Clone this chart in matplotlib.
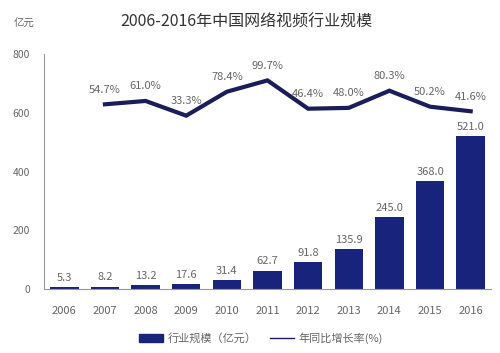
import matplotlib
matplotlib.use("Agg")
import matplotlib.pyplot as plt
from matplotlib.lines import Line2D
from matplotlib.patches import Patch

plt.rcParams['font.family'] = ['Noto Sans CJK SC', 'DejaVu Sans']

years = ['2006', '2007', '2008', '2009', '2010', '2011', '2012', '2013', '2014', '2015', '2016']
scale = [5.3, 8.2, 13.2, 17.6, 31.4, 62.7, 91.8, 135.9, 245.0, 368.0, 521.0]
growth_years = years[1:]
growth = [54.7, 61.0, 33.3, 78.4, 99.7, 46.4, 48.0, 80.3, 50.2, 41.6]

bar_color = '#18237c'
line_color = '#1b1d5a'
text_gray = '#666666'

fig = plt.figure(figsize=(5, 3.53), dpi=100)
ax = fig.add_axes([44/500, 1-289/353, (491-44)/500, (289-54)/353])
x = list(range(len(years)))
bars = ax.bar(x, scale, width=0.7, color=bar_color, zorder=2)
for xi, v in zip(x, scale):
    ax.annotate(f'{v:.1f}', (xi, v), xytext=(0, 3), textcoords='offset points',
                ha='center', va='bottom', fontsize=8, color=text_gray)
ax.set_xlim(-0.5, len(years)-0.5)
ax.set_ylim(0, 800)
ax.set_yticks([0, 200, 400, 600, 800])
ax.set_xticks(x)
ax.set_xticklabels(years)
ax.tick_params(axis='both', length=0, labelsize=7.5, colors=text_gray)
ax.tick_params(axis='x', pad=12, labelsize=8)
ax.tick_params(axis='y', pad=10)
for s in ['top', 'right']:
    ax.spines[s].set_visible(False)
ax.spines['left'].set_color('#999999')
ax.spines['bottom'].set_color('#999999')
ax.spines['left'].set_linewidth(0.8)
ax.spines['bottom'].set_linewidth(0.8)

ax2 = ax.twinx()
gx = [years.index(y) for y in growth_years]
ax2.plot(gx, growth, color=line_color, lw=3, solid_joinstyle='miter', zorder=3)
ax2.set_ylim(-293, 149.4)
ax2.axis('off')
for xi, g in zip(gx, growth):
    ax2.annotate(f'{g:.1f}%', (xi, g), xytext=(0, 7), textcoords='offset points',
                 ha='center', va='bottom', fontsize=8, color=text_gray)

fig.text(246/500, 1-22/353, '2006-2016年中国网络视频行业规模', ha='center', va='center',
         fontsize=11.5, color='#333333')
fig.text(14/500, 1-24/353, '亿元', ha='left', va='center', fontsize=7.5, color=text_gray)

handles = [Patch(color=bar_color), Line2D([0], [0], color=line_color, lw=1)]
labels = ['行业规模（亿元）', '年同比增长率(%)']
fig.legend(handles, labels, loc='center', bbox_to_anchor=(261/500, 1-338/353), ncol=2,
           frameon=False, fontsize=8, labelcolor=text_gray, handlelength=2.2,
           handleheight=0.7, columnspacing=1.2, handletextpad=0.4)

fig.savefig('out.png', dpi=100)
